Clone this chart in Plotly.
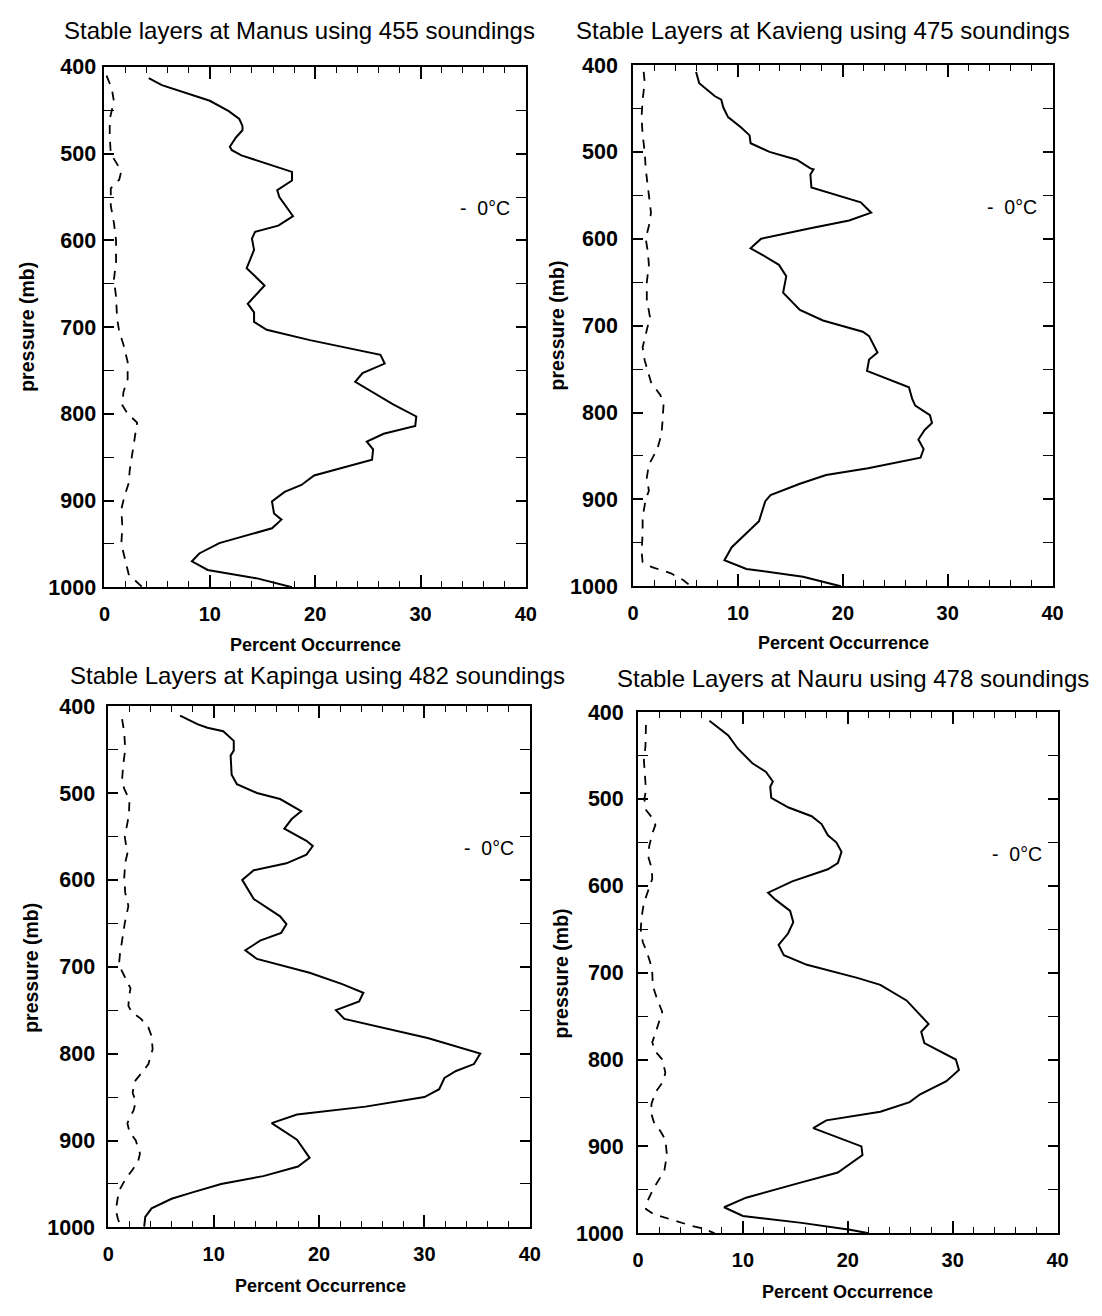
import plotly.graph_objects as go

# ---------------- data ----------------
station_titles = [
    "Stable layers at Manus using 455 soundings",
    "Stable Layers at Kavieng using 475 soundings",
    "Stable Layers at Kapinga using 482 soundings",
    "Stable Layers at Nauru using 478 soundings",
]

x_ticks = [0, 10, 20, 30, 40]
y_ticks = [400, 500, 600, 700, 800, 900, 1000]
x_title = "Percent Occurrence"
y_title = "pressure (mb)"
legend_label = "-\u00a0\u00a00°C"

# Manus
manus_p = [413, 421, 439, 451, 460, 468, 473, 481, 492, 496, 502, 521, 531, 542, 550, 572, 583, 590,
           598, 611, 632, 652, 673, 683, 694, 703, 715, 732, 742, 753, 763, 789, 803, 814, 823, 832,
           841, 853, 871, 882, 890, 901, 915, 922, 932, 949, 961, 970, 980, 990, 1000]
manus_all = [4.2, 5.45, 10.0, 11.8, 12.8, 13.1, 13.1, 12.5, 11.9, 12.1, 13.0, 17.8, 17.8, 16.4, 16.6,
             17.9, 16.5, 14.3, 14.0, 14.2, 13.5, 15.2, 13.6, 14.2, 14.2, 15.4, 19.5, 26.2, 26.6, 24.5,
             23.8, 27.4, 29.6, 29.5, 26.5, 24.9, 25.5, 25.4, 19.9, 18.7, 17.1, 15.9, 16.1, 16.8, 15.9,
             10.9, 9.0, 8.3, 9.8, 14.6, 17.8]
manus_p0 = [410, 425, 440, 460, 480, 500, 510, 520, 530, 540, 560, 580, 600, 625, 645, 665, 690, 705,
            720, 740, 760, 775, 790, 800, 810, 825, 845, 865, 880, 895, 910, 930, 950, 970, 985, 1000]
manus_0c = [0.2, 0.7, 0.9, 0.5, 0.5, 0.6, 1.1, 1.6, 1.4, 0.6, 0.6, 0.9, 1.1, 1.1, 0.9, 1.1, 1.2, 1.4,
            1.8, 2.2, 2.2, 1.8, 1.7, 2.2, 3.1, 2.9, 2.6, 2.4, 2.3, 1.9, 1.6, 1.7, 1.6, 2.0, 2.3, 3.6]

# Kavieng
kavieng_p = [408, 421, 436, 440, 449, 460, 472, 481, 490, 500, 509, 519, 520, 526, 541, 558, 570, 579,
             588, 600, 611, 617, 630, 643, 662, 682, 694, 707, 712, 731, 739, 752, 771, 784, 792, 803,
             812, 820, 831, 842, 852, 864, 872, 882, 895, 902, 925, 955, 970, 980, 989, 1000]
kavieng_all = [6.0, 6.3, 7.8, 8.4, 8.6, 9.05, 10.3, 11.1, 11.2, 13.0, 15.6, 16.9, 17.2, 16.9, 17.0,
               21.7, 22.7, 20.6, 16.9, 12.2, 11.2, 12.1, 13.9, 14.6, 14.3, 15.9, 18.1, 21.9, 22.5,
               23.3, 22.5, 22.3, 26.3, 26.6, 26.9, 28.3, 28.5, 27.8, 27.2, 27.7, 27.4, 22.4, 18.4,
               15.9, 13.1, 12.6, 12.0, 9.4, 8.7, 10.8, 16.2, 19.8]
kavieng_p0 = [408, 420, 440, 460, 480, 500, 520, 540, 560, 570, 585, 600, 615, 630, 650, 670, 690, 710,
              725, 740, 765, 780, 790, 810, 825, 842, 860, 875, 890, 900, 920, 940, 960, 972, 978, 985,
              993, 1000]
kavieng_0c = [1.0, 1.1, 0.9, 0.8, 0.9, 1.1, 1.2, 1.4, 1.6, 1.7, 1.5, 1.2, 1.4, 1.5, 1.3, 1.3, 1.6, 1.2,
              0.9, 1.1, 1.7, 2.6, 2.9, 2.8, 2.7, 2.3, 1.5, 1.3, 1.5, 1.2, 0.9, 0.9, 0.8, 0.9, 1.8, 3.6,
              4.8, 5.5]

# Kapinga
kapinga_p = [411, 421, 425, 429, 440, 451, 457, 479, 490, 500, 507, 513, 521, 530, 541, 555, 561, 571,
             581, 589, 600, 622, 642, 651, 661, 670, 681, 691, 707, 720, 730, 740, 750, 760, 782, 800,
             812, 820, 828, 841, 850, 861, 870, 880, 899, 920, 930, 941, 950, 960, 967, 978, 988, 999]
kapinga_all = [6.8, 8.5, 9.4, 10.9, 11.9, 11.9, 11.6, 11.7, 12.2, 14.1, 16.3, 17.2, 18.3, 17.4, 16.7,
               18.8, 19.4, 18.8, 16.9, 13.8, 12.7, 13.8, 16.3, 16.9, 16.4, 14.4, 13.0, 14.1, 19.1,
               22.2, 24.2, 23.8, 21.6, 22.4, 30.3, 35.3, 34.7, 33.0, 31.9, 31.4, 30.0, 24.4, 17.9,
               15.5, 17.9, 19.1, 18.0, 14.7, 10.7, 7.9, 6.0, 4.1, 3.5, 3.4]
kapinga_p0 = [415, 430, 450, 468, 485, 495, 508, 525, 535, 550, 570, 580, 598, 615, 630, 650, 670, 685,
              698, 710, 725, 735, 745, 752, 760, 770, 780, 795, 812, 820, 832, 845, 855, 865, 880, 890,
              900, 915, 925, 935, 945, 958, 970, 980, 990, 1000]
kapinga_0c = [1.3, 1.5, 1.6, 1.4, 1.3, 1.5, 2.0, 1.95, 1.8, 1.55, 1.8, 1.6, 1.5, 1.6, 1.9, 1.55, 1.3,
              1.1, 1.0, 1.5, 2.1, 1.95, 1.9, 2.2, 3.1, 3.8, 4.1, 4.2, 3.8, 3.3, 2.5, 2.3, 2.6, 2.4,
              1.8, 2.0, 2.6, 3.0, 2.8, 2.2, 1.6, 1.0, 0.8, 0.7, 0.9, 1.2]

# Nauru
nauru_p = [410, 427, 442, 459, 469, 480, 486, 499, 510, 520, 529, 542, 550, 561, 574, 581, 595, 608,
           616, 629, 642, 655, 668, 680, 691, 706, 714, 732, 759, 768, 781, 800, 812, 825, 840, 849,
           860, 870, 879, 900, 910, 930, 942, 959, 970, 980, 988, 996, 1000]
nauru_all = [6.8, 8.6, 9.5, 10.9, 12.2, 12.85, 12.6, 12.7, 14.35, 16.55, 17.5, 18.1, 18.9, 19.4, 19.05,
             18.1, 14.7, 12.4, 13.1, 14.5, 14.8, 14.3, 13.4, 13.9, 16.1, 20.9, 23.1, 25.6, 27.7, 27.0,
             27.3, 30.3, 30.6, 29.4, 26.9, 25.9, 23.1, 17.95, 16.7, 21.3, 21.4, 19.05, 15.4, 10.3,
             8.2, 10.0, 15.6, 20.2, 22.0]
nauru_p0 = [415, 440, 455, 475, 490, 500, 512, 522, 530, 540, 555, 568, 580, 592, 603, 620, 635, 650,
            665, 675, 688, 700, 715, 730, 745, 758, 770, 780, 790, 800, 815, 825, 837, 850, 860, 872,
            882, 892, 910, 928, 938, 950, 963, 972, 978, 985, 991, 995, 1000]
nauru_0c = [0.75, 0.7, 0.55, 0.7, 0.75, 0.6, 0.7, 1.35, 1.65, 1.35, 1.05, 1.0, 1.3, 1.35, 1.05, 0.55,
            0.35, 0.25, 0.45, 0.8, 1.15, 1.35, 1.4, 1.8, 2.3, 2.0, 1.65, 1.35, 1.6, 2.3, 2.6, 2.4,
            1.7, 1.3, 1.2, 1.5, 2.1, 2.6, 2.75, 2.5, 2.0, 1.4, 0.9, 0.75, 1.5, 3.3, 5.0, 6.3, 7.3]

series = [
    (manus_p, manus_all, manus_p0, manus_0c),
    (kavieng_p, kavieng_all, kavieng_p0, kavieng_0c),
    (kapinga_p, kapinga_all, kapinga_p0, kapinga_0c),
    (nauru_p, nauru_all, nauru_p0, nauru_0c),
]

# ---------------- layout geometry (pixels) ----------------
W, H = 1102, 1316
panels = [
    dict(x0=100, x1=528, y0=57, y1=587, tx=298, ty=20, xtx=314, xty=646, ytx=21, yty=322, ystand=2),
    dict(x0=637, x1=1063, y0=55, y1=586, tx=830, ty=20, xtx=851, xty=644, ytx=560, yty=320, ystand=9),
    dict(x0=104, x1=532, y0=708, y1=1239, tx=316, ty=677, xtx=319, xty=1299, ytx=26, yty=975, ystand=7),
    dict(x0=642, x1=1068, y0=714, y1=1245, tx=860, ty=680, xtx=855, xty=1305, ytx=564, yty=980, ystand=8),
]

def px(x):
    return x / W

def py(y):
    return 1 - y / H

fig = go.Figure()
layout = dict(
    width=W, height=H, margin=dict(l=0, r=0, t=0, b=0),
    paper_bgcolor="white", plot_bgcolor="white", showlegend=False,
    font=dict(family="Liberation Sans, Arial, sans-serif", color="black"),
)
annotations = []
x_tick_font = dict(size=20, weight="bold", family="Liberation Sans")
y_tick_font = dict(size=21.5, weight="bold", family="Liberation Sans")

for i, (pan, (p_all, v_all, p_0, v_0)) in enumerate(zip(panels, series)):
    n = "" if i == 0 else str(i + 1)
    xa, ya = "x" + n, "y" + n
    fig.add_trace(go.Scatter(x=v_all, y=p_all, mode="lines", xaxis=xa, yaxis=ya,
                             line=dict(color="black", width=2)))
    fig.add_trace(go.Scatter(x=v_0, y=p_0, mode="lines", xaxis=xa, yaxis=ya,
                             line=dict(color="black", width=1.8, dash="9px,8px")))
    layout["xaxis" + n] = dict(
        domain=[px(pan["x0"]), px(pan["x1"])], anchor=ya, range=[0, 40],
        tickvals=x_ticks, ticks="inside", ticklen=12, tickwidth=1.6, tickcolor="black",
        minor=dict(dtick=2, ticks="inside", ticklen=6, tickwidth=1.3, tickcolor="black"),
        showline=True, linewidth=2, linecolor="black", mirror="ticks",
        showgrid=False, zeroline=False, ticklabelstandoff=8,
        tickfont=x_tick_font,
    )
    layout["yaxis" + n] = dict(
        domain=[py(pan["y1"]), py(pan["y0"])], anchor=xa, range=[1000, 400],
        tickvals=y_ticks, ticks="inside", ticklen=10, tickwidth=1.6, tickcolor="black",
        minor=dict(dtick=50, ticks="inside", ticklen=10, tickwidth=1.3, tickcolor="black"),
        showline=True, linewidth=2, linecolor="black", mirror="ticks",
        showgrid=False, zeroline=False, ticklabelstandoff=pan["ystand"],
        tickfont=y_tick_font,
    )
    annotations.append(dict(text=station_titles[i], xref="paper", yref="paper",
                            x=px(pan["tx"]), y=py(pan["ty"]), xanchor="center", yanchor="middle",
                            showarrow=False, font=dict(size=24, family="Liberation Sans")))
    annotations.append(dict(text=x_title, xref="paper", yref="paper",
                            x=px(pan["xtx"]), y=py(pan["xty"]), xanchor="center", yanchor="middle",
                            showarrow=False, font=dict(size=18, weight="bold", family="Liberation Sans")))
    annotations.append(dict(text=y_title, xref="paper", yref="paper", textangle=-90,
                            x=px(pan["ytx"]), y=py(pan["yty"]), xanchor="center", yanchor="middle",
                            showarrow=False, font=dict(size=19.5, weight="bold", family="Liberation Sans")))
    annotations.append(dict(text=legend_label, xref=xa, yref=ya, x=33.6, y=563,
                            xanchor="left", yanchor="middle", showarrow=False,
                            font=dict(size=19.5, family="Liberation Sans")))

layout["annotations"] = annotations
fig.update_layout(**layout)
fig.write_html("out.html")
